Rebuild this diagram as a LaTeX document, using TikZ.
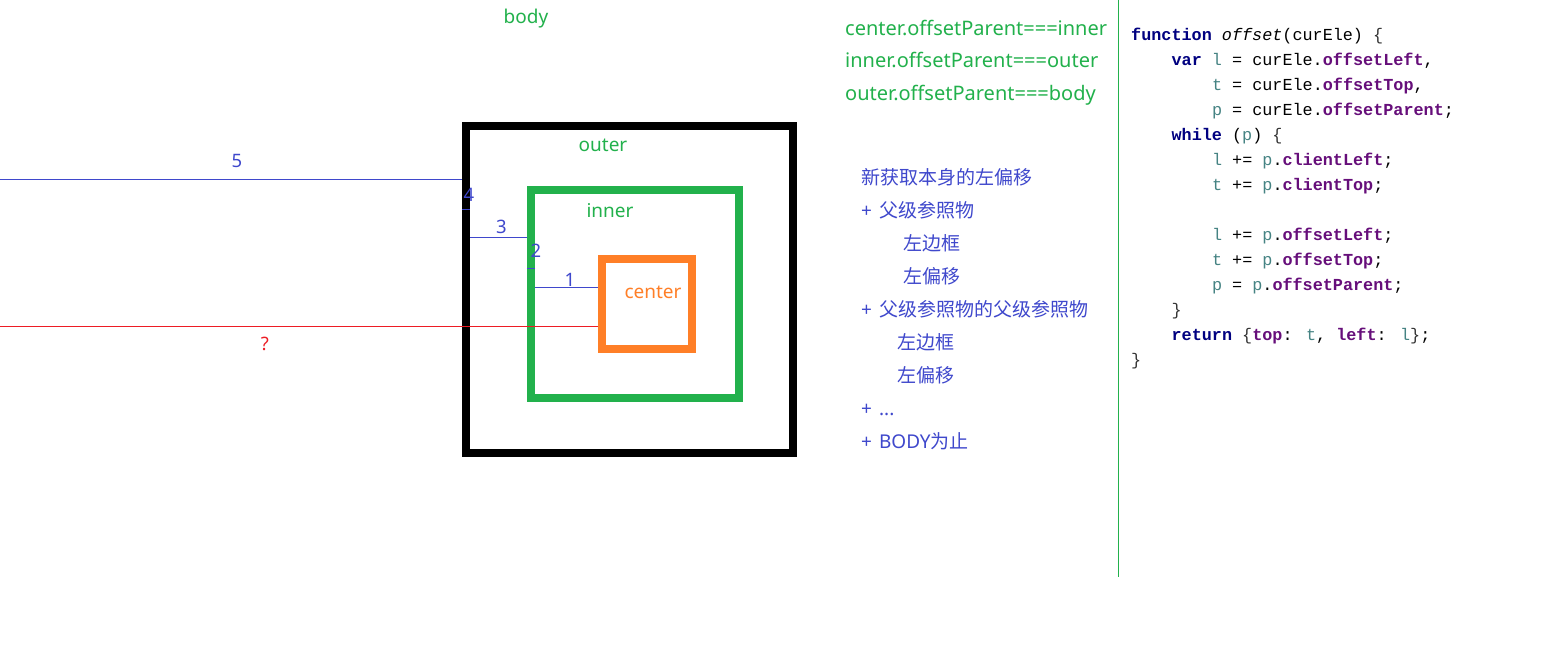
\documentclass[tikz,border=0pt]{standalone}
\usepackage{fontspec}
\setmainfont{Noto Sans}
\newfontfamily\cjk{Noto Sans CJK SC}
\newfontfamily\codefont{Liberation Mono}
\definecolor{pgreen}{HTML}{22B14C}
\definecolor{porange}{HTML}{FF7F27}
\definecolor{pblue}{HTML}{3F48CC}
\definecolor{pred}{HTML}{ED1C24}
\definecolor{kwc}{HTML}{000080}
\definecolor{propc}{HTML}{660E7A}
\definecolor{varc}{HTML}{458383}
\definecolor{brc}{HTML}{333333}
\newcommand{\kw}[1]{\textcolor{kwc}{\bfseries #1}}
\newcommand{\pr}[1]{\textcolor{propc}{\bfseries #1}}
\newcommand{\vr}[1]{\textcolor{varc}{#1}}
\newcommand{\br}[1]{\textcolor{brc}{#1}}
\newcommand{\pl}{+\hspace{7pt}}
\begin{document}
\begin{tikzpicture}[x=1pt,y=-1pt,
  box/.style={draw,line width=8pt,minimum width=#1,minimum height=#1,inner sep=0pt},
  lbl/.style={anchor=base,font=\fontsize{19}{21}\selectfont,inner sep=0pt},
  num/.style={anchor=base,font=\fontsize{18.5}{20}\selectfont,inner sep=0pt,text=pblue},
  meas/.style={draw=pblue,line width=1pt},
  redmeas/.style={draw=pred,line width=1pt},
  greentxt/.style={anchor=base west,font=\fontsize{20}{22}\selectfont,inner sep=0pt,text=pgreen},
  bluetxt/.style={anchor=base west,font=\fontsize{19}{21}\selectfont,inner sep=0pt,text=pblue},
  codeln/.style={anchor=base west,font=\codefont\fontsize{16.8}{20}\selectfont,inner sep=0pt,text=black}]
\useasboundingbox[fill=white] (0,0) rectangle (1566,648);

% boxes
\node[box=327pt,draw=black] (outer) at (629.5,289.5) {};
\node[box=208pt,draw=pgreen] (inner) at (635,294) {};
\node[box=90pt,draw=porange] (center) at (647,304) {};

% box labels
\node[lbl,text=pgreen] (tbody) at (526,23) {body};
\node[lbl,text=pgreen] (touter) at (603,151) {outer};
\node[lbl,text=pgreen] (tinner) at (610,217) {inner};
\node[lbl,text=porange] (tcenter) at (653,298) {center};

% measurement lines
\coordinate (l5) at (0,179);
\coordinate (lq) at (0,326);
\coordinate (y4) at (0,209);
\coordinate (y3) at (0,237);
\coordinate (y2) at (0,268);
\coordinate (y1) at (0,287);
\draw[meas] (l5) -- (l5 -| outer.west);
\draw[meas] (y4 -| outer.west) -- ++(8,0);
\draw[meas] ([xshift=8pt]y3 -| outer.west) -- (y3 -| inner.west);
\draw[meas] (y2 -| inner.west) -- ++(8,0);
\draw[meas] ([xshift=8pt]y1 -| inner.west) -- (y1 -| center.west);
\draw[redmeas] (lq) -- (lq -| center.west);

\node[num] (n5) at (237,167) {5};
\node[num] (n4) at (469,201) {4};
\node[num] (n3) at (501.5,233) {3};
\node[num] (n2) at (536,257) {2};
\node[num] (n1) at (570,286) {1};
\node[num,text=pred] (nq) at (265,350) {?};

% green parent relations
\node[greentxt] (r1) at (845,35) {center.offsetParent===inner};
\node[greentxt] (r2) at (845,67) {inner.offsetParent===outer};
\node[greentxt] (r3) at (845,100) {outer.offsetParent===body};

% divider
\coordinate (dtop) at (1118,0);
\coordinate (dbot) at (1118,577);
\draw[pgreen,line width=1pt] (dtop) -- (dbot);

% blue explanation
\node[bluetxt] (b1) at (861,184) {\cjk 新获取本身的左偏移};
\node[bluetxt] (b2) at (861,217) {\pl{\cjk 父级参照物}};
\node[bluetxt] (b3) at (903,250) {\cjk 左边框};
\node[bluetxt] (b4) at (903,283) {\cjk 左偏移};
\node[bluetxt] (b5) at (861,316) {\pl{\cjk 父级参照物的父级参照物}};
\node[bluetxt] (b6) at (897,349) {\cjk 左边框};
\node[bluetxt] (b7) at (897,382) {\cjk 左偏移};
\node[bluetxt] (b8) at (861,415) {\pl...};
\node[bluetxt] (b9) at (861,448) {\pl BODY{\cjk 为止}};

% code
\node[codeln] (c0) at (1131,40) {\kw{function} \textit{offset}(curEle) \br{\{}};
\node[codeln] (c1) at (1171.4,65) {\kw{var} \vr{l} = curEle.\pr{offsetLeft},};
\node[codeln] (c2) at (1211.8,90) {\vr{t} = curEle.\pr{offsetTop},};
\node[codeln] (c3) at (1211.8,115) {\vr{p} = curEle.\pr{offsetParent};};
\node[codeln] (c4) at (1171.4,140) {\kw{while} (\vr{p}) \br{\{}};
\node[codeln] (c5) at (1211.8,165) {\vr{l} += \vr{p}.\pr{clientLeft};};
\node[codeln] (c6) at (1211.8,190) {\vr{t} += \vr{p}.\pr{clientTop};};
\node[codeln] (c8) at (1211.8,240) {\vr{l} += \vr{p}.\pr{offsetLeft};};
\node[codeln] (c9) at (1211.8,265) {\vr{t} += \vr{p}.\pr{offsetTop};};
\node[codeln] (c10) at (1211.8,290) {\vr{p} = \vr{p}.\pr{offsetParent};};
\node[codeln] (c11) at (1171.4,315) {\br{\}}};
\node[codeln] (c12) at (1171.4,340) {\kw{return} \br{\{}\pr{top}: \vr{t}, \pr{left}: \vr{l}\br{\}};};
\node[codeln] (c13) at (1131,365) {\br{\}}};
\end{tikzpicture}
\end{document}
